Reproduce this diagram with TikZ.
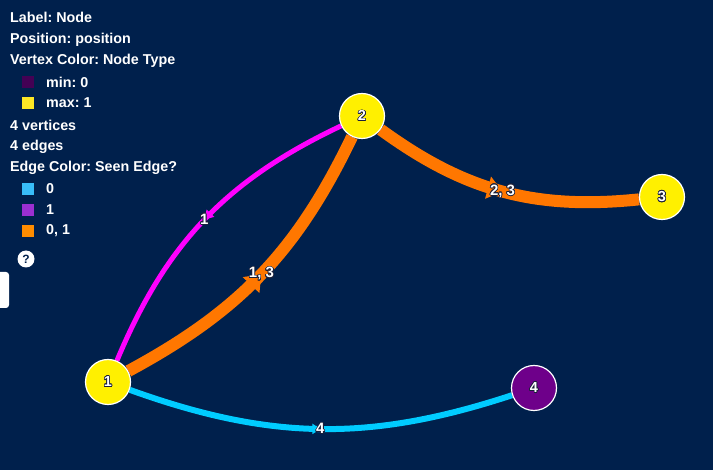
\documentclass[tikz,border=0pt]{standalone}
\usepackage{fontspec}
\setmainfont{Liberation Sans}
\usepackage{contour}
\contourlength{0.7pt}
\contournumber{16}
\usetikzlibrary{arrows.meta,decorations.markings}
\definecolor{Navy}{HTML}{00204C}
\definecolor{Rim}{HTML}{1A1F3A}
\definecolor{Sun}{HTML}{FFF000}
\definecolor{Plum}{HTML}{6E008A}
\definecolor{Tang}{HTML}{FF7700}
\definecolor{Mag}{HTML}{FF00FF}
\definecolor{Sky}{HTML}{00CCFF}
\definecolor{VirLo}{HTML}{440154}
\definecolor{VirHi}{HTML}{FDE725}
\definecolor{KeyZero}{HTML}{38BDF8}
\definecolor{KeyOne}{HTML}{9B2FD0}
\definecolor{KeyBoth}{HTML}{FF8C00}
\frenchspacing
% white glyphs with a thin dark rim
\newcommand\rimmed[1]{\contour{Rim}{#1}}
\pgfdeclarelayer{back}\pgfdeclarelayer{edges}
\pgfsetlayers{back,edges,main}

\begin{document}
\begin{tikzpicture}[x=1pt,y=-1pt,font=\fontsize{14.3}{16}\selectfont\bfseries,
  vert/.style={circle,draw=white,line width=1.2pt,minimum size=45pt,inner sep=0pt,text=white,font=\fontsize{14.5}{16}\selectfont\bfseries},
  elabel/.style={text=white,inner sep=1pt,font=\fontsize{15}{16}\selectfont\bfseries},
  midarrow/.style={postaction={decorate,decoration={markings,mark=at position 0.5 with {\arrow{#1}}}}},
  legtext/.style={anchor=west,text=white,inner sep=0pt},
  swatch/.style={fill=#1,minimum size=12pt,inner sep=0pt}]
  \begin{pgfonlayer}{back}
    \fill[Navy] (0,0) rectangle (713,470);
  \end{pgfonlayer}
  \useasboundingbox (0,0) rectangle (713,470);
  % legend
  \node[legtext] (lbl) at (10,17) {Label: Node};
  \node[legtext] (pos) at (10,40) {Position: position};
  \node[legtext] (vcol) at (10,61) {Vertex Color: Node Type};
  \node[swatch=VirLo] (sqmin) at (28,82) {};
  \node[legtext] (tmin) at (46,82) {min: 0};
  \node[swatch=VirHi] (sqmax) at (28,103) {};
  \node[legtext] (tmax) at (46,103) {max: 1};
  \node[legtext] (nvert) at (10,125) {4 vertices};
  \node[legtext] (nedge) at (10,147) {4 edges};
  \node[legtext] (ecol) at (10,168) {Edge Color: Seen Edge?};
  \node[swatch=KeyZero] (sqzero) at (28,189) {};
  \node[legtext] (tzero) at (46,189) {0};
  \node[swatch=KeyOne] (sqone) at (28,210) {};
  \node[legtext] (tone) at (46,210) {1};
  \node[swatch=KeyBoth] (sqboth) at (28,231) {};
  \node[legtext] (tboth) at (46,231) {0, 1};
  \node[circle,fill=white,minimum size=17pt,inner sep=0pt,text=Navy,font=\fontsize{12}{12}\selectfont\bfseries] (help) at (26,259) {?};
  \fill[white,rounded corners=3pt] (-10,272) rectangle (9,308);
  % vertices
  \node[vert,fill=Sun] (v1) at (108,382) {\rimmed{1}};
  \node[vert,fill=Sun] (v2) at (362,116) {\rimmed{2}};
  \node[vert,fill=Sun] (v3) at (662,197) {\rimmed{3}};
  \node[vert,fill=Plum] (v4) at (534,388) {\rimmed{4}};
  % edges
  \begin{pgfonlayer}{edges}
    \draw[Mag,line width=5pt,midarrow={Triangle[length=9pt,width=10pt]}] (v2) to[bend right=21] node[elabel]{\rimmed{1}} (v1);
    \draw[Tang,line width=12pt,midarrow={Triangle[length=15pt,width=22pt]}] (v1) to[bend right=18] node[elabel]{\rimmed{1, 3}} (v2);
    \draw[Tang,line width=12pt,midarrow={Triangle[length=15pt,width=22pt]}] (v2) to[bend right=21] node[elabel]{\rimmed{2, 3}} (v3);
    \draw[Sky,line width=6pt,midarrow={Triangle[length=8pt,width=10pt]}] (v1) to[bend right=19] node[elabel]{\rimmed{4}} (v4);
  \end{pgfonlayer}
\end{tikzpicture}
\end{document}
